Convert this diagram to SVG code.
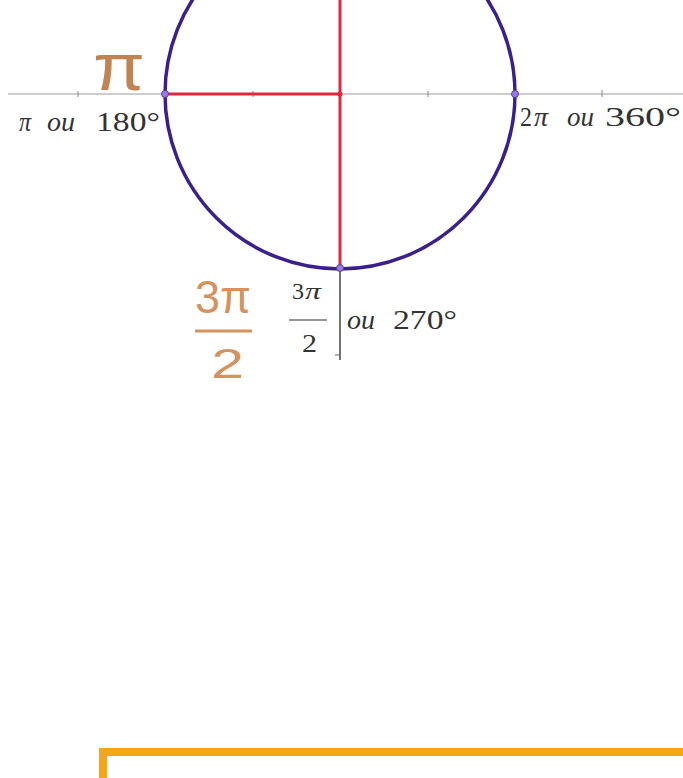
<svg xmlns="http://www.w3.org/2000/svg" width="683" height="778" viewBox="0 0 683 778">
<style>
.axis{stroke:#9a9a9a;stroke-width:1;fill:none}
.tick{stroke:#8a8a8a;stroke-width:1}
.red{stroke:#e2263c;stroke-width:3;fill:none}
.lbl{font-family:"Liberation Serif",serif;font-size:27px;fill:#333}
.it{font-style:italic}
.hand{font-family:"Liberation Sans",sans-serif;fill:#d4935e}
.pt{fill:#9a7ae6;stroke:#5a38b8;stroke-width:1}
</style>
<rect width="683" height="778" fill="#fff"/>
<g id="connectors">
<line class="axis" x1="8" y1="94" x2="683" y2="94"/>
<line class="tick" x1="78" y1="91" x2="78" y2="97"/>
<line class="tick" x1="253" y1="91" x2="253" y2="97"/>
<line class="tick" x1="428" y1="91" x2="428" y2="97"/>
<line class="tick" x1="602" y1="90" x2="602" y2="97"/>
<line x1="340" y1="268" x2="340" y2="360" stroke="#444" stroke-width="1.5"/>
<line x1="335" y1="355" x2="340" y2="355" stroke="#666" stroke-width="1"/>
<line class="red" x1="165" y1="94" x2="340" y2="94"/>
<line class="red" x1="340" y1="0" x2="340" y2="268"/>
</g>
<g id="circle">
<circle cx="340" cy="94" r="175" fill="none" stroke="#3b1f8c" stroke-width="3.5"/>
</g>
<g id="points">
<circle class="pt" cx="165" cy="94" r="3.5"/>
<circle class="pt" cx="515" cy="94" r="3.5"/>
<circle class="pt" cx="340" cy="268" r="3.5"/>
<circle cx="340" cy="94" r="2.5" fill="#e2263c"/>
</g>
<g id="label-180">
<text class="lbl" y="131"><tspan class="it" x="19" textLength="12" lengthAdjust="spacingAndGlyphs">π</tspan><tspan class="it" x="47" textLength="28" lengthAdjust="spacingAndGlyphs">ou</tspan><tspan x="96" textLength="64" lengthAdjust="spacingAndGlyphs">180°</tspan></text>
</g>
<g id="label-360">
<text class="lbl" y="126"><tspan x="520" textLength="12" lengthAdjust="spacingAndGlyphs">2</tspan><tspan class="it" x="534" textLength="14" lengthAdjust="spacingAndGlyphs">π</tspan><tspan class="it" x="567" textLength="27" lengthAdjust="spacingAndGlyphs">ou</tspan><tspan x="605" textLength="76" lengthAdjust="spacingAndGlyphs">360°</tspan></text>
</g>
<g id="label-270">
<text class="lbl" style="font-size:23px" y="299"><tspan x="292" textLength="12" lengthAdjust="spacingAndGlyphs">3</tspan><tspan class="it" x="305" textLength="16" lengthAdjust="spacingAndGlyphs">π</tspan></text>
<line x1="289" y1="320" x2="327" y2="320" stroke="#333" stroke-width="1.2"/>
<text class="lbl" style="font-size:25px" x="302" y="352" textLength="15" lengthAdjust="spacingAndGlyphs">2</text>
<text class="lbl" y="329"><tspan class="it" x="347" textLength="28" lengthAdjust="spacingAndGlyphs">ou</tspan><tspan x="393" textLength="64" lengthAdjust="spacingAndGlyphs">270°</tspan></text>
</g>
<g id="hand-pi">
<text class="hand" x="93" y="90" font-size="66" textLength="52" lengthAdjust="spacingAndGlyphs" style="fill:#bf8452">π</text>
</g>
<g id="hand-3pi2">
<text class="hand" x="195" y="313" font-size="47" textLength="56" lengthAdjust="spacingAndGlyphs">3π</text>
<line x1="195" y1="331" x2="252" y2="331" stroke="#d4935e" stroke-width="3"/>
<text class="hand" x="211" y="378" font-size="42" textLength="33" lengthAdjust="spacingAndGlyphs">2</text>
</g>
<g id="box">
<rect x="103" y="752" width="600" height="60" fill="none" stroke="#f4a712" stroke-width="8"/>
</g>
</svg>
